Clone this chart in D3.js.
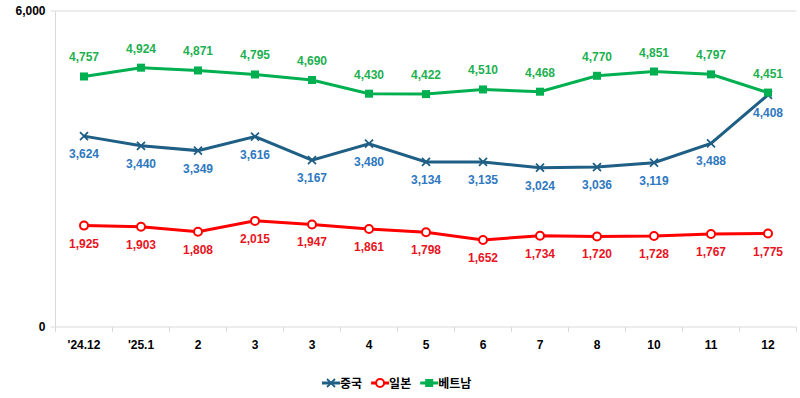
<!DOCTYPE html>
<head>
	<meta charset="utf-8">
	<script src="https://d3js.org/d3.v7.min.js"></script>
	<style>
		body{ margin:0; background:#fff; }
		text{ font-family: 'Liberation Sans', 'Noto Sans CJK KR', sans-serif; font-weight: bold; }
	</style>
</head>
<body>
	<div id="chart"></div>
	<script>
		// month labels (there are two "3" columns in the source)
		var months = ["'24.12", "'25.1", "2", "3", "3", "4", "5", "6", "7", "8", "10", "11", "12"];
		var china = [3624, 3440, 3349, 3616, 3167, 3480, 3134, 3135, 3024, 3036, 3119, 3488, 4408];
		var japan = [1925, 1903, 1808, 2015, 1947, 1861, 1798, 1652, 1734, 1720, 1728, 1767, 1775];
		var vietnam = [4757, 4924, 4871, 4795, 4690, 4430, 4422, 4510, 4468, 4770, 4851, 4797, 4451];
		var yTicks = [0, 6000];

		var width = 800, height = 398;
		var plotLeft = 55.5, plotRight = 796.5, plotTop = 11, plotBottom = 327;

		var svg = d3.select("#chart").append("svg")
			.attr("width", width)
			.attr("height", height);

		var x = d3.scaleBand().domain(d3.range(months.length)).range([plotLeft, plotRight]);
		var y = d3.scaleLinear().domain([0, 6000]).range([plotBottom, plotTop]);
		var cx = function(i){ return x(i) + x.bandwidth() / 2; };

		// gridline at top + y axis line
		svg.append("line").attr("x1", plotLeft).attr("x2", plotRight)
			.attr("y1", y(6000)).attr("y2", y(6000))
			.attr("stroke", "#d9d9d9");
		svg.append("line").attr("x1", plotLeft).attr("x2", plotLeft)
			.attr("y1", plotTop).attr("y2", plotBottom)
			.attr("stroke", "#d9d9d9");

		// y tick labels
		yTicks.forEach(function(t){
			svg.append("line").attr("x1", plotLeft - 5).attr("x2", plotLeft)
				.attr("y1", y(t)).attr("y2", y(t)).attr("stroke", "#d9d9d9");
			svg.append("text").attr("x", plotLeft - 10).attr("y", y(t) + 4)
				.attr("text-anchor", "end").attr("font-size", 12).attr("fill", "#000")
				.text(d3.format(",")(t));
		});

		// x axis
		svg.append("line").attr("x1", plotLeft).attr("x2", plotRight)
			.attr("y1", plotBottom).attr("y2", plotBottom).attr("stroke", "#d9d9d9");
		d3.range(months.length + 1).forEach(function(i){
			var xx = plotLeft + i * x.bandwidth();
			svg.append("line").attr("x1", xx).attr("x2", xx)
				.attr("y1", plotBottom).attr("y2", plotBottom + 5).attr("stroke", "#d9d9d9");
		});
		svg.selectAll(".xlab").data(months).enter().append("text")
			.attr("x", function(d, i){ return cx(i); })
			.attr("y", 349)
			.attr("text-anchor", "middle").attr("font-size", 12).attr("fill", "#000")
			.text(function(d){ return d; });

		var series = [
			{name: "중국", values: china, line: "#1F5F85", label: "#2E78C0", marker: "x", dy: 22},
			{name: "일본", values: japan, line: "#FF0000", label: "#E8141E", marker: "circle", dy: 22},
			{name: "베트남", values: vietnam, line: "#00B050", label: "#1DB050", marker: "square", dy: -15}
		];

		var line = d3.line().x(function(d, i){ return cx(i); }).y(function(d){ return y(d); });

		function drawMarker(g, type, color, px, py){
			if (type === "x") {
				g.append("path")
					.attr("d", "M" + (px - 4) + "," + (py - 4) + "L" + (px + 4) + "," + (py + 4) +
						"M" + (px + 4) + "," + (py - 4) + "L" + (px - 4) + "," + (py + 4))
					.attr("stroke", color).attr("stroke-width", 1.8);
			} else if (type === "circle") {
				g.append("circle").attr("cx", px).attr("cy", py).attr("r", 4)
					.attr("fill", "#fff").attr("stroke", color).attr("stroke-width", 2);
			} else {
				g.append("rect").attr("x", px - 4).attr("y", py - 4)
					.attr("width", 8).attr("height", 8).attr("fill", color);
			}
		}

		series.forEach(function(s){
			var g = svg.append("g");
			g.append("path").datum(s.values)
				.attr("d", line).attr("fill", "none")
				.attr("stroke", s.line).attr("stroke-width", 3);
			s.values.forEach(function(v, i){
				drawMarker(g, s.marker, s.line, cx(i), y(v));
			});
			g.selectAll("text").data(s.values).enter().append("text")
				.attr("x", function(d, i){ return cx(i); })
				.attr("y", function(d){ return y(d) + s.dy; })
				.attr("text-anchor", "middle").attr("font-size", 12)
				.attr("fill", s.label)
				.text(function(d){ return d3.format(",")(d); });
		});

		// legend
		var legend = svg.append("g").attr("transform", "translate(322,383)");
		var lx = 0;
		series.forEach(function(s){
			var item = legend.append("g").attr("transform", "translate(" + lx + ",0)");
			item.append("line").attr("x1", 0).attr("x2", 18).attr("y1", 0).attr("y2", 0)
				.attr("stroke", s.line).attr("stroke-width", 3);
			drawMarker(item, s.marker, s.line, 9, 0);
			var t = item.append("text").attr("x", 18).attr("y", 5)
				.attr("font-size", 12).attr("fill", "#000")
				.style("font-family", "'Noto Sans CJK KR', sans-serif")
				.text(s.name);
			lx += 18 + t.node().getComputedTextLength() + 9;
		});
	</script>
</body>
